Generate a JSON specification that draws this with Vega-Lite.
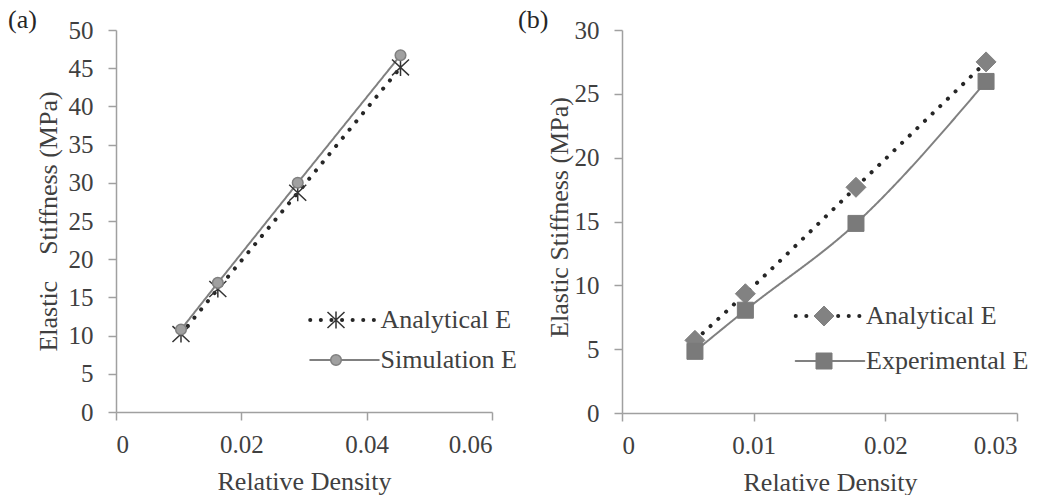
{
  "$schema": "https://vega.github.io/schema/vega-lite/v6.json",
  "background": "white",
  "padding": {"left": 8, "top": 6, "right": 0, "bottom": 0},
  "spacing": 0,
  "config": {
    "view": {"stroke": null},
    "font": "Liberation Serif",
    "axis": {
      "grid": false,
      "domainColor": "#a0a0a0", "domainWidth": 1.5,
      "tickColor": "#a0a0a0", "tickWidth": 1.5, "tickSize": 8,
      "labelFont": "Liberation Serif", "labelFontSize": 25, "labelColor": "#404040",
      "titleFont": "Liberation Serif", "titleFontSize": 26, "titleFontWeight": "normal", "titleColor": "#404040"
    },
    "axisX": {"labelPadding": 12, "titlePadding": 11},
    "axisY": {"labelPadding": 15},
    "legend": {"labelFont": "Liberation Serif", "labelFontSize": 26, "labelColor": "#404040", "padding": 0, "labelLimit": 220},
    "title": {"font": "Liberation Serif", "fontSize": 26, "fontWeight": "normal", "color": "#262626", "anchor": "start", "frame": "group", "baseline": "alphabetic"}
  },
  "resolve": {
    "scale": {"color": "independent", "fill": "independent", "stroke": "independent", "shape": "independent", "strokeDash": "independent", "strokeWidth": "independent"},
    "legend": {"color": "independent", "fill": "independent", "stroke": "independent", "shape": "independent", "strokeDash": "independent", "strokeWidth": "independent"}
  },
  "hconcat": [
    {
      "width": 376,
      "height": 382,
      "title": {"text": "(a)", "dx": -108, "offset": -14.5},
      "data": {"values": [
        {"series": "Analytical E", "density": 0.01037, "stiffness": 10.2},
        {"series": "Analytical E", "density": 0.01625, "stiffness": 16.1},
        {"series": "Analytical E", "density": 0.0290, "stiffness": 28.7},
        {"series": "Analytical E", "density": 0.0454, "stiffness": 45.1},
        {"series": "Simulation E", "density": 0.01037, "stiffness": 10.8},
        {"series": "Simulation E", "density": 0.01625, "stiffness": 16.9},
        {"series": "Simulation E", "density": 0.0290, "stiffness": 30.0},
        {"series": "Simulation E", "density": 0.0454, "stiffness": 46.7}
      ]},
      "encoding": {
        "x": {"field": "density", "type": "quantitative",
              "scale": {"domain": [0, 0.06], "nice": false, "zero": true},
              "axis": {"values": [0, 0.02, 0.04, 0.06], "format": "~g", "title": "Relative Density"}},
        "y": {"field": "stiffness", "type": "quantitative",
              "scale": {"domain": [0, 50], "nice": false},
              "axis": {"values": [0, 5, 10, 15, 20, 25, 30, 35, 40, 45, 50], "title": "Elastic \u00a0\u00a0\u00a0Stiffness (MPa)", "titlePadding": 7}}
      },
      "layer": [
        {
          "mark": {"type": "line", "strokeCap": "round"},
          "encoding": {
            "color": {"field": "series", "type": "nominal", "scale": {"range": ["#262626", "#808080"]},
                      "legend": {"title": null, "orient": "none", "legendX": 215.5, "legendY": 277, "symbolType": "M-4.9,0L4.9,0", "symbolSize": 196, "labelOffset": 23, "rowPadding": 14, "encode": {"symbols": {"update": {"strokeCap": {"value": "round"}}}}}},
            "strokeDash": {"field": "series", "type": "nominal", "scale": {"range": [[0.1, 10.5], [1, 0]]},
                      "legend": {"title": null, "orient": "none", "legendX": 215.5, "legendY": 277, "symbolType": "M-4.9,0L4.9,0", "symbolSize": 196, "labelOffset": 23, "rowPadding": 14, "encode": {"symbols": {"update": {"strokeCap": {"value": "round"}}}}}},
            "strokeWidth": {"field": "series", "type": "nominal", "scale": {"type": "ordinal", "range": [4, 2]},
                      "legend": {"title": null, "orient": "none", "legendX": 215.5, "legendY": 277, "symbolType": "M-4.9,0L4.9,0", "symbolSize": 196, "labelOffset": 23, "rowPadding": 14, "encode": {"symbols": {"update": {"strokeCap": {"value": "round"}}}}}}
          }
        },
        {
          "mark": {"type": "point", "filled": true, "size": 113, "strokeWidth": 1.5, "opacity": 1},
          "encoding": {
            "shape": {"field": "series", "type": "nominal",
                      "scale": {"domain": ["Analytical E", "Simulation E"], "range": ["M-1.6,-1.5L1.6,1.5M-1.6,1.5L1.6,-1.5M0,-1.6L0,1.6", "circle"]},
                      "legend": {"title": null, "orient": "none", "legendX": 207, "legendY": 277, "symbolSize": 113, "symbolStrokeWidth": 1.5, "labelExpr": "''", "labelOffset": 0, "rowPadding": 14}},
            "fill": {"field": "series", "type": "nominal",
                     "scale": {"domain": ["Analytical E", "Simulation E"], "range": ["#333333", "#a0a0a0"]},
                     "legend": {"title": null, "orient": "none", "legendX": 207, "legendY": 277, "symbolSize": 113, "symbolStrokeWidth": 1.5, "labelExpr": "''", "labelOffset": 0, "rowPadding": 14}},
            "stroke": {"field": "series", "type": "nominal",
                       "scale": {"domain": ["Analytical E", "Simulation E"], "range": ["#333333", "#7f7f7f"]},
                       "legend": {"title": null, "orient": "none", "legendX": 207, "legendY": 277, "symbolSize": 113, "symbolStrokeWidth": 1.5, "labelExpr": "''", "labelOffset": 0, "rowPadding": 14}}
          }
        }
      ]
    },
    {
      "width": 395,
      "height": 383,
      "title": {"text": "(b)", "dx": -104, "offset": -14.7},
      "data": {"values": [
        {"series": "Analytical E", "density": 0.00554, "stiffness": 5.69},
        {"series": "Analytical E", "density": 0.00937, "stiffness": 9.34},
        {"series": "Analytical E", "density": 0.01777, "stiffness": 17.68},
        {"series": "Analytical E", "density": 0.02765, "stiffness": 27.5},
        {"series": "Experimental E", "density": 0.00554, "stiffness": 4.83},
        {"series": "Experimental E", "density": 0.00937, "stiffness": 8.05},
        {"series": "Experimental E", "density": 0.01777, "stiffness": 14.85},
        {"series": "Experimental E", "density": 0.02765, "stiffness": 25.97}
      ]},
      "encoding": {
        "x": {"field": "density", "type": "quantitative",
              "scale": {"domain": [0, 0.03], "nice": false},
              "axis": {"values": [0, 0.01, 0.02, 0.03], "format": "~g", "title": "Relative Density", "titleX": 208}},
        "y": {"field": "stiffness", "type": "quantitative",
              "scale": {"domain": [0, 30], "nice": false},
              "axis": {"values": [0, 5, 10, 15, 20, 25, 30], "title": "Elastic Stiffness (MPa)", "titlePadding": 2, "titleY": 187}}
      },
      "layer": [
        {
          "mark": {"type": "line", "strokeCap": "round", "interpolate": "monotone"},
          "encoding": {
            "color": {"field": "series", "type": "nominal", "scale": {"range": ["#262626", "#808080"]},
                      "legend": {"title": null, "orient": "none", "legendX": 195, "legendY": 273, "symbolType": "M-4.9,0L4.9,0", "symbolSize": 196, "labelOffset": 23, "rowPadding": 19, "encode": {"symbols": {"update": {"strokeCap": {"value": "round"}}}}}},
            "strokeDash": {"field": "series", "type": "nominal", "scale": {"range": [[0.1, 10.5], [1, 0]]},
                      "legend": {"title": null, "orient": "none", "legendX": 195, "legendY": 273, "symbolType": "M-4.9,0L4.9,0", "symbolSize": 196, "labelOffset": 23, "rowPadding": 19, "encode": {"symbols": {"update": {"strokeCap": {"value": "round"}}}}}},
            "strokeWidth": {"field": "series", "type": "nominal", "scale": {"type": "ordinal", "range": [4, 2]},
                      "legend": {"title": null, "orient": "none", "legendX": 195, "legendY": 273, "symbolType": "M-4.9,0L4.9,0", "symbolSize": 196, "labelOffset": 23, "rowPadding": 19, "encode": {"symbols": {"update": {"strokeCap": {"value": "round"}}}}}}
          }
        },
        {
          "mark": {"type": "point", "filled": true, "size": 64, "strokeWidth": 1, "opacity": 1},
          "encoding": {
            "shape": {"field": "series", "type": "nominal",
                      "scale": {"domain": ["Analytical E", "Experimental E"], "range": ["M-2.5,0L0,-2.5L2.5,0L0,2.5Z", "M-2,-2L2,-2L2,2L-2,2Z"]},
                      "legend": {"title": null, "orient": "none", "legendX": 189, "legendY": 273, "symbolSize": 64, "symbolStrokeWidth": 1, "labelExpr": "''", "labelOffset": 0, "rowPadding": 19}},
            "fill": {"field": "series", "type": "nominal",
                     "scale": {"domain": ["Analytical E", "Experimental E"], "range": ["#828282", "#7a7a7a"]},
                     "legend": {"title": null, "orient": "none", "legendX": 189, "legendY": 273, "symbolSize": 64, "symbolStrokeWidth": 1, "labelExpr": "''", "labelOffset": 0, "rowPadding": 19}},
            "stroke": {"field": "series", "type": "nominal",
                       "scale": {"domain": ["Analytical E", "Experimental E"], "range": ["#828282", "#7a7a7a"]},
                       "legend": {"title": null, "orient": "none", "legendX": 189, "legendY": 273, "symbolSize": 64, "symbolStrokeWidth": 1, "labelExpr": "''", "labelOffset": 0, "rowPadding": 19}}
          }
        }
      ]
    }
  ]
}
